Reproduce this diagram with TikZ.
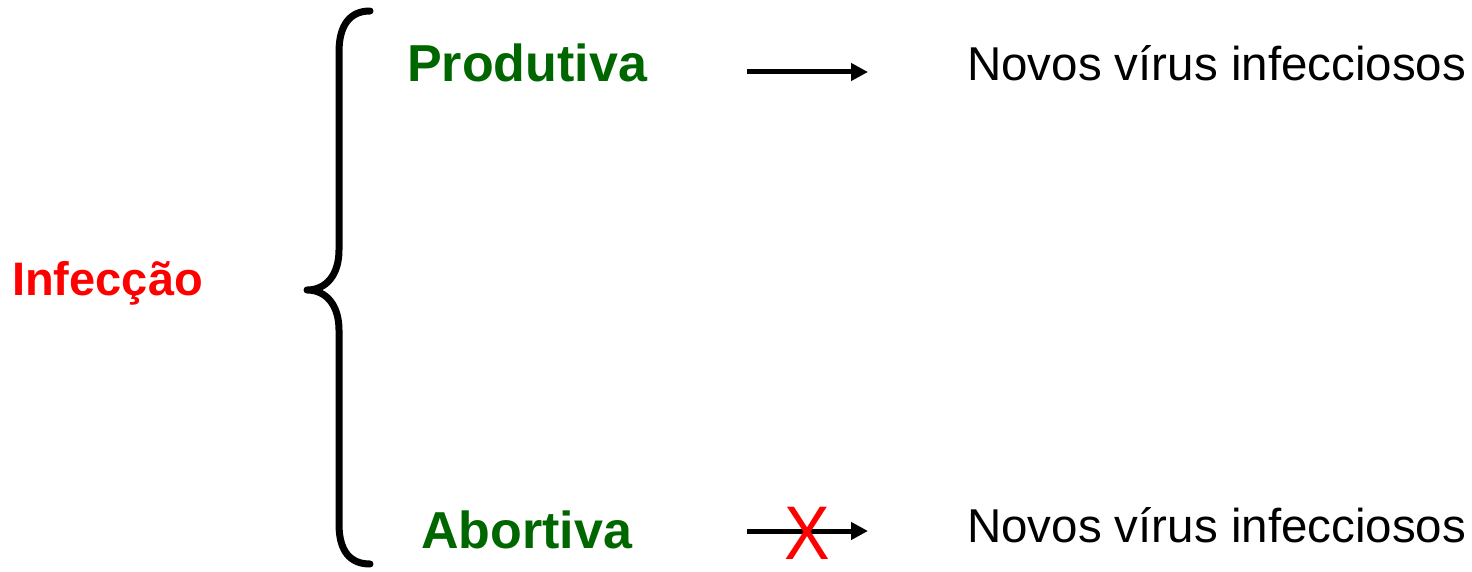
\documentclass[tikz,border=0pt]{standalone}
\usepackage{fontspec}
\setmainfont{Liberation Sans}
\usetikzlibrary{arrows.meta}
\definecolor{leafgreen}{RGB}{0,102,0}
\definecolor{brightred}{RGB}{255,0,0}
\begin{document}
\begin{tikzpicture}[x=1pt,y=-1pt,
  txt/.style={inner sep=0pt,anchor=base west},
  kind/.style={txt,text=leafgreen,font=\fontsize{52}{60}\selectfont\bfseries},
  result/.style={txt,font=\fontsize{47.5}{56}\selectfont},
  flow/.style={line width=5pt,-{Triangle[length=17pt,width=17pt]}},
  brace/.style={line width=7pt,line cap=round,line join=round}]
\useasboundingbox (0,0) rectangle (1472,572);

% main term
\node[txt,text=brightred,font=\fontsize{47}{56}\selectfont\bfseries] (inf) at (12,295) {Infecção};

% curly brace
\draw[brace] (370,11) .. controls (350,11) and (339,25) .. (339,52)
  -- (339,250) .. controls (339,275) and (326,290) .. (307,290)
  .. controls (326,290) and (339,305) .. (339,330)
  -- (339,524) .. controls (339,551) and (350,564) .. (370,564);

% the two kinds
\node[kind] (prod) at (407,82) {Produtiva};
\node[kind] (abor) at (421,548) {Abortiva};

% outcomes
\node[result] (out1) at (967,81) {Novos vírus infecciosos};
\node[result] (out2) at (967,542) {Novos vírus infecciosos};

% arrows
\coordinate (a1s) at (747,72);
\coordinate (a1e) at (868,72);
\coordinate (a2s) at (747,531);
\coordinate (a2e) at (868,531);
\draw[flow] (a1s) -- (a1e);
\draw[flow] (a2s) -- (a2e);

% cross over the blocked arrow
\node[inner sep=0pt,anchor=base,text=brightred,font=\fontsize{76}{78}\selectfont] (cross) at (807,559) {\scalebox{0.9}[1]{X}};
\end{tikzpicture}
\end{document}
